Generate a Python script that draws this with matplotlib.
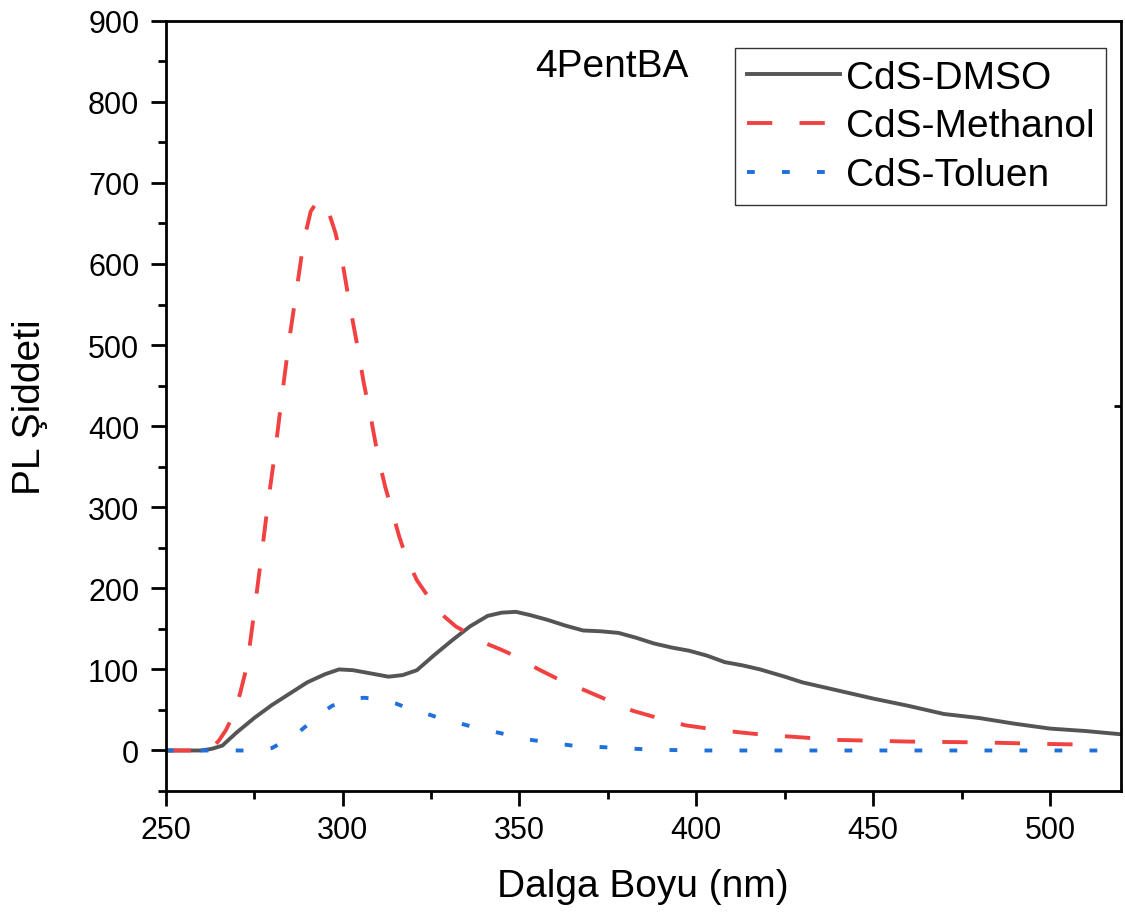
import numpy as np
import matplotlib.pyplot as plt
from matplotlib.ticker import MultipleLocator

plt.rcParams['font.family'] = ['Liberation Sans', 'DejaVu Sans']

# PL spektrumlari (dalga boyu nm, siddet)
x_dmso = [250, 255, 260, 263, 266, 270, 275, 280, 285, 290, 295, 299, 303, 308,
          313, 317, 321, 326, 331, 336, 341, 345, 349, 353, 358, 363, 368, 373,
          378, 383, 388, 393, 398, 403, 408, 413, 418, 425, 430, 440, 450, 460,
          470, 480, 490, 500, 510, 520]
y_dmso = [0, 0, 0, 2, 6, 22, 40, 56, 70, 84, 94, 100, 99, 95,
          91, 93, 99, 118, 136, 153, 166, 170, 171, 167, 161, 154, 148, 147,
          145, 139, 132, 127, 123, 117, 109, 105, 100, 91, 84, 74, 64, 55,
          45, 40, 33, 27, 24, 20]

x_meth = [250, 255, 260, 263, 265, 267, 269, 271, 273, 275, 277, 279, 281, 283,
          285, 287, 289, 291, 293, 294, 296, 298, 300, 302, 304, 306, 308, 310,
          312, 314, 316, 318, 321, 324, 328, 332, 336, 340, 345, 350, 355, 360,
          367, 375, 382, 390, 397, 405, 413, 420, 427, 440, 460, 480, 500, 513]
y_meth = [0, 0, 0, 3, 12, 25, 43, 70, 105, 170, 238, 308, 371, 442,
          509, 568, 628, 665, 678, 678, 665, 638, 601, 550, 503, 453, 410, 363,
          326, 295, 264, 238, 210, 191, 168, 153, 143, 133, 124, 114, 101, 90,
          77, 62, 49, 39, 31, 26, 22, 19, 17, 13, 11, 10, 8, 7]

x_tol = [250, 255, 260, 265, 270, 275, 278, 280, 283, 285, 288, 291, 294, 297,
         300, 303, 306, 309, 312, 315, 318, 321, 324, 328, 332, 336, 341, 346,
         350, 355, 360, 365, 370, 378, 388, 400, 420, 450, 480, 500, 515]
y_tol = [0, 0, 0, 0, 0, 0, 1, 3, 10, 15, 24, 35, 46, 55,
         60, 64, 65, 64, 61, 58, 53, 50, 45, 39, 35, 30, 25, 20,
         15, 12, 9, 6, 5, 3, 1, 0, 0, 0, 0, 0, 0]

fig = plt.figure(figsize=(11.25, 9.2), dpi=100)
ax = fig.add_axes([0.1473, 0.1391, 0.849, 0.8373])

ax.plot(x_dmso, y_dmso, color='#555555', lw=2.8, label='CdS-DMSO')
ax.plot(x_meth, y_meth, color='#f24141', lw=2.8, linestyle=(0, (6.5, 7)),
        label='CdS-Methanol')
ax.plot(x_tol, y_tol, color='#1f6fdc', lw=2.8, linestyle=(0, (2, 7)),
        label='CdS-Toluen')

ax.set_xlim(250, 520)
ax.set_ylim(-50, 900)
ax.xaxis.set_major_locator(MultipleLocator(50))
ax.xaxis.set_minor_locator(MultipleLocator(25))
ax.set_yticks(np.arange(0, 901, 100))
ax.yaxis.set_minor_locator(MultipleLocator(50))

for s in ax.spines.values():
    s.set_linewidth(2.0)
ax.tick_params(which='major', direction='out', length=11, width=2.0,
               labelsize=22, pad=6)
ax.tick_params(which='minor', direction='out', length=5.5, width=2.0)
ax.tick_params(axis='y', which='major', pad=8)

# einzelner Strich rechts
sec = ax.secondary_yaxis('right')
sec.set_yticks([425])
sec.tick_params(direction='in', length=5, width=2.0, labelright=False)
sec.yaxis.set_minor_locator(plt.NullLocator())

ax.set_xlabel('Dalga Boyu (nm)', fontsize=28, labelpad=17)
ax.set_ylabel('PL Şiddeti', fontsize=28, labelpad=29)

ax.text(376, 844, '4PentBA', fontsize=28, ha='center', va='center')

leg = ax.legend(loc='upper right', bbox_to_anchor=(0.9846, 0.9646), fontsize=28,
                handlelength=2.4, handletextpad=0.15, labelspacing=0.33,
                borderpad=0.3, borderaxespad=0.0, fancybox=False,
                edgecolor='#333333', framealpha=1)
leg.get_frame().set_linewidth(1.0)

plt.savefig('out.png', dpi=100)
